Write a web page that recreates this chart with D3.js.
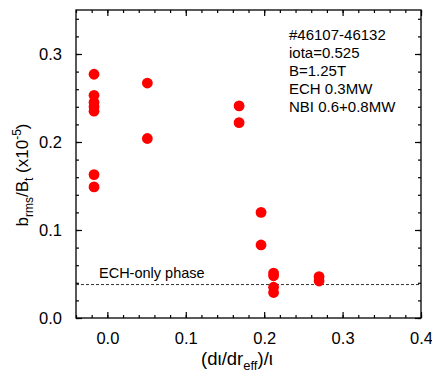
<!DOCTYPE html>
<html>
<head>
<meta charset="utf-8">
<script src="https://cdn.jsdelivr.net/npm/d3@7"></script>
<style>
  body { margin: 0; background: #fff; }
  svg { display: block; font-family: "Liberation Sans", Arial, sans-serif; }
</style>
</head>
<body>
<svg id="chart" width="432" height="372"></svg>
<script>
// shot groups
const xVals = [-0.017, -0.017, -0.017, -0.017, -0.017, -0.017, -0.017,
  0.051, 0.051,
  0.168, 0.168,
  0.196, 0.196,
  0.212, 0.212, 0.212, 0.212,
  0.270, 0.270];
const yVals = [0.277, 0.253, 0.245, 0.240, 0.235, 0.163, 0.149,
  0.267, 0.204,
  0.241, 0.222,
  0.120, 0.083,
  0.051, 0.048, 0.035, 0.029,
  0.047, 0.042];
const xTickVals = [0.0, 0.1, 0.2, 0.3, 0.4];
const yTickVals = [0.0, 0.1, 0.2, 0.3];
const echLevel = 0.038;
const notes = ["#46107-46132", "iota=0.525", "B=1.25T", "ECH 0.3MW", "NBI 0.6+0.8MW"];

const svg = d3.select("#chart");
const mLeft = 76, mRight = 421, mTop = 10, mBottom = 318;

const x = d3.scaleLinear().domain([-0.04, 0.4]).range([mLeft, mRight]);
const y = d3.scaleLinear().domain([0, 0.35]).range([mBottom, mTop]);

//
// minor ticks first, then major ones with labels
function drawAxis(axis, transform) {
  const g = svg.append("g").attr("transform", transform).call(axis);
  g.select(".domain").remove();
  g.selectAll("line").attr("stroke", "#000").attr("stroke-width", 1.2);
  g.selectAll("text").attr("fill", "#000").style("font-size", "16.5px");
  return g;
}
const fmt = d3.format(".1f");

// bottom
drawAxis(d3.axisBottom(x).tickValues(x.ticks(22)).tickSizeInner(-3).tickFormat(""), `translate(0,${mBottom})`);
drawAxis(d3.axisBottom(x).tickValues(xTickVals).tickSizeInner(-6).tickPadding(14).tickFormat(fmt), `translate(0,${mBottom})`);
// top
drawAxis(d3.axisTop(x).tickValues(x.ticks(22)).tickSizeInner(-3).tickFormat(""), `translate(0,${mTop})`);
drawAxis(d3.axisTop(x).tickValues(xTickVals).tickSizeInner(-6).tickFormat(""), `translate(0,${mTop})`);
// left
drawAxis(d3.axisLeft(y).tickValues(y.ticks(17)).tickSizeInner(-3).tickFormat(""), `translate(${mLeft},0)`);
drawAxis(d3.axisLeft(y).tickValues(yTickVals).tickSizeInner(-6).tickPadding(14).tickFormat(fmt), `translate(${mLeft},0)`);
// right
drawAxis(d3.axisRight(y).tickValues(y.ticks(17)).tickSizeInner(-3).tickFormat(""), `translate(${mRight},0)`);
drawAxis(d3.axisRight(y).tickValues(yTickVals).tickSizeInner(-6).tickFormat(""), `translate(${mRight},0)`);

// frame
svg.append("rect")
  .attr("x", mLeft).attr("y", mTop)
  .attr("width", mRight - mLeft).attr("height", mBottom - mTop)
  .attr("fill", "none").attr("stroke", "#000").attr("stroke-width", 1.3);

// ECH-only reference level
svg.append("line")
  .attr("x1", mLeft).attr("x2", mRight)
  .attr("y1", y(echLevel)).attr("y2", y(echLevel))
  .attr("stroke", "#333").attr("stroke-width", 1)
  .attr("stroke-dasharray", "3,2");
svg.append("text")
  .attr("x", 99).attr("y", y(echLevel) - 7)
  .style("font-size", "14.5px").attr("fill", "#000")
  .text("ECH-only phase");

// points
svg.selectAll("circle.pt")
  .data(xVals.map((v, i) => ({ x: v, y: yVals[i] })))
  .enter()
  .append("circle")
  .attr("class", "pt")
  .attr("cx", d => x(d.x))
  .attr("cy", d => y(d.y))
  .attr("r", 5.4)
  .attr("fill", "#ff0000");

// notes
svg.selectAll("text.note")
  .data(notes)
  .enter()
  .append("text")
  .attr("class", "note")
  .attr("x", 289)
  .attr("y", (d, i) => 40 + i * 18)
  .style("font-size", "15px")
  .attr("fill", "#000")
  .text(d => d);

// x title
const xt = svg.append("text")
  .attr("x", 237).attr("y", 365)
  .attr("text-anchor", "middle")
  .style("font-size", "18.5px").attr("fill", "#000");
xt.append("tspan").text("(d\u03b9/dr");
xt.append("tspan").attr("dy", 5).style("font-size", "13px").text("eff");
xt.append("tspan").attr("dy", -5).text(")/\u03b9");

// y title
const yt = svg.append("text")
  .attr("transform", "translate(28,175) rotate(-90)")
  .attr("text-anchor", "middle")
  .style("font-size", "17px").attr("fill", "#000");
yt.append("tspan").text("b");
yt.append("tspan").attr("dy", 5).style("font-size", "12px").text("rms");
yt.append("tspan").attr("dy", -5).text("/B");
yt.append("tspan").attr("dy", 5).style("font-size", "12px").text("t");
yt.append("tspan").attr("dy", -5).text(" (x10");
yt.append("tspan").attr("dy", -7).style("font-size", "12px").text("-5");
yt.append("tspan").attr("dy", 7).text(")");
</script>
</body>
</html>
